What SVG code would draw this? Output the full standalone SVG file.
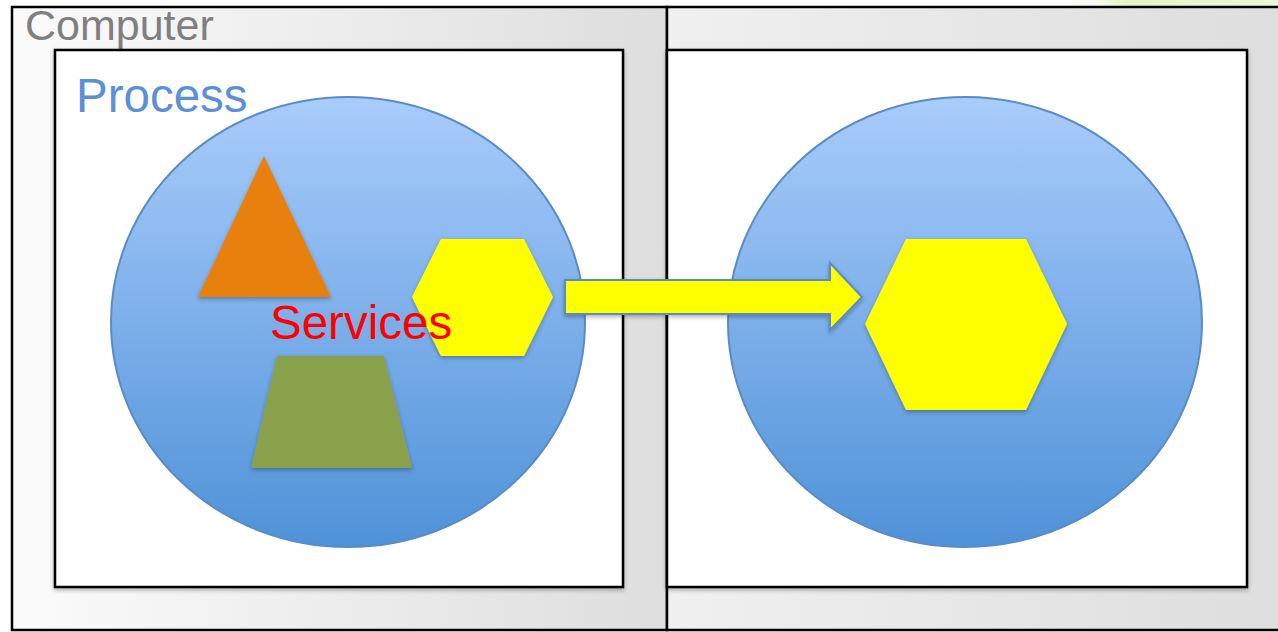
<svg xmlns="http://www.w3.org/2000/svg" width="1278" height="632" viewBox="0 0 1278 632">
<defs>
<linearGradient id="gL" x1="0" y1="0" x2="1" y2="0"><stop offset="0" stop-color="#fbfbfb"/><stop offset="1" stop-color="#dedede"/></linearGradient>
<linearGradient id="gR" x1="0" y1="0" x2="1" y2="0"><stop offset="0" stop-color="#f0f0f0"/><stop offset="1" stop-color="#dedede"/></linearGradient>
<linearGradient id="gC" x1="0" y1="0" x2="0" y2="1"><stop offset="0" stop-color="#a9ccfb"/><stop offset="1" stop-color="#4f92d8"/></linearGradient>
<linearGradient id="gG" x1="0" y1="0" x2="1" y2="0"><stop offset="0" stop-color="#ffffff" stop-opacity="0"/><stop offset="0.3" stop-color="#e6f3c4"/><stop offset="1" stop-color="#eef6d8"/></linearGradient>
<filter id="sh" x="-10%" y="-10%" width="120%" height="125%"><feDropShadow dx="0" dy="2" stdDeviation="2" flood-color="#000" flood-opacity="0.3"/></filter>
</defs>
<style>
.box{stroke:#000;stroke-width:2.5}
.inner{fill:#fff;stroke:#000;stroke-width:2.5}
.proc{fill:url(#gC);stroke:#5a8cc4;stroke-width:2}
.lbl{font-family:"Liberation Sans",Arial,sans-serif}
</style>
<rect x="1060" y="0" width="218" height="6" fill="url(#gG)"/>
<g id="computer-left">
<rect class="box" x="12" y="7" width="655" height="623" fill="url(#gL)"/>
<text class="lbl" x="25" y="40" font-size="43" fill="#7f7f7f">Computer</text>
</g>
<g id="computer-right">
<path d="M667 7 H1280 V630 H667 Z" fill="url(#gR)" class="box"/>
</g>
<g id="process-left">
<rect class="inner" x="55" y="50" width="568" height="537" filter="url(#sh)"/>
<text class="lbl" x="76" y="112" font-size="47.5" fill="#5b8fd6">Process</text>
<ellipse class="proc" cx="348" cy="322" rx="237" ry="225"/>
</g>
<g id="process-right">
<rect class="inner" x="667" y="50" width="580" height="537" filter="url(#sh)"/>
<ellipse class="proc" cx="965" cy="322" rx="237" ry="225"/>
</g>
<g id="triangle"><polygon points="264,156 331,297 198,297" fill="#e8800a" filter="url(#sh)"/></g>
<g id="trapezoid"><polygon points="277,356 384,356 412,468 251,468" fill="#8aa14c" filter="url(#sh)"/></g>
<g id="hex-small"><polygon points="412,297 441,239 524,239 553,297 524,356 441,356" fill="#ffff00" filter="url(#sh)"/></g>
<g id="hex-big"><polygon points="865,324 906,239 1026,239 1067,324 1026,410 906,410" fill="#ffff00" filter="url(#sh)"/></g>
<g id="services-label"><text class="lbl" x="270" y="339" font-size="47.5" fill="#ff0000">Services</text></g>
<g id="connectors">
<polygon points="565,280 830,280 830,263 862,297 830,330 830,314 565,314" fill="#ffff00" stroke="#5a8cc4" stroke-width="2" stroke-linejoin="miter" filter="url(#sh)"/>
</g>
</svg>
